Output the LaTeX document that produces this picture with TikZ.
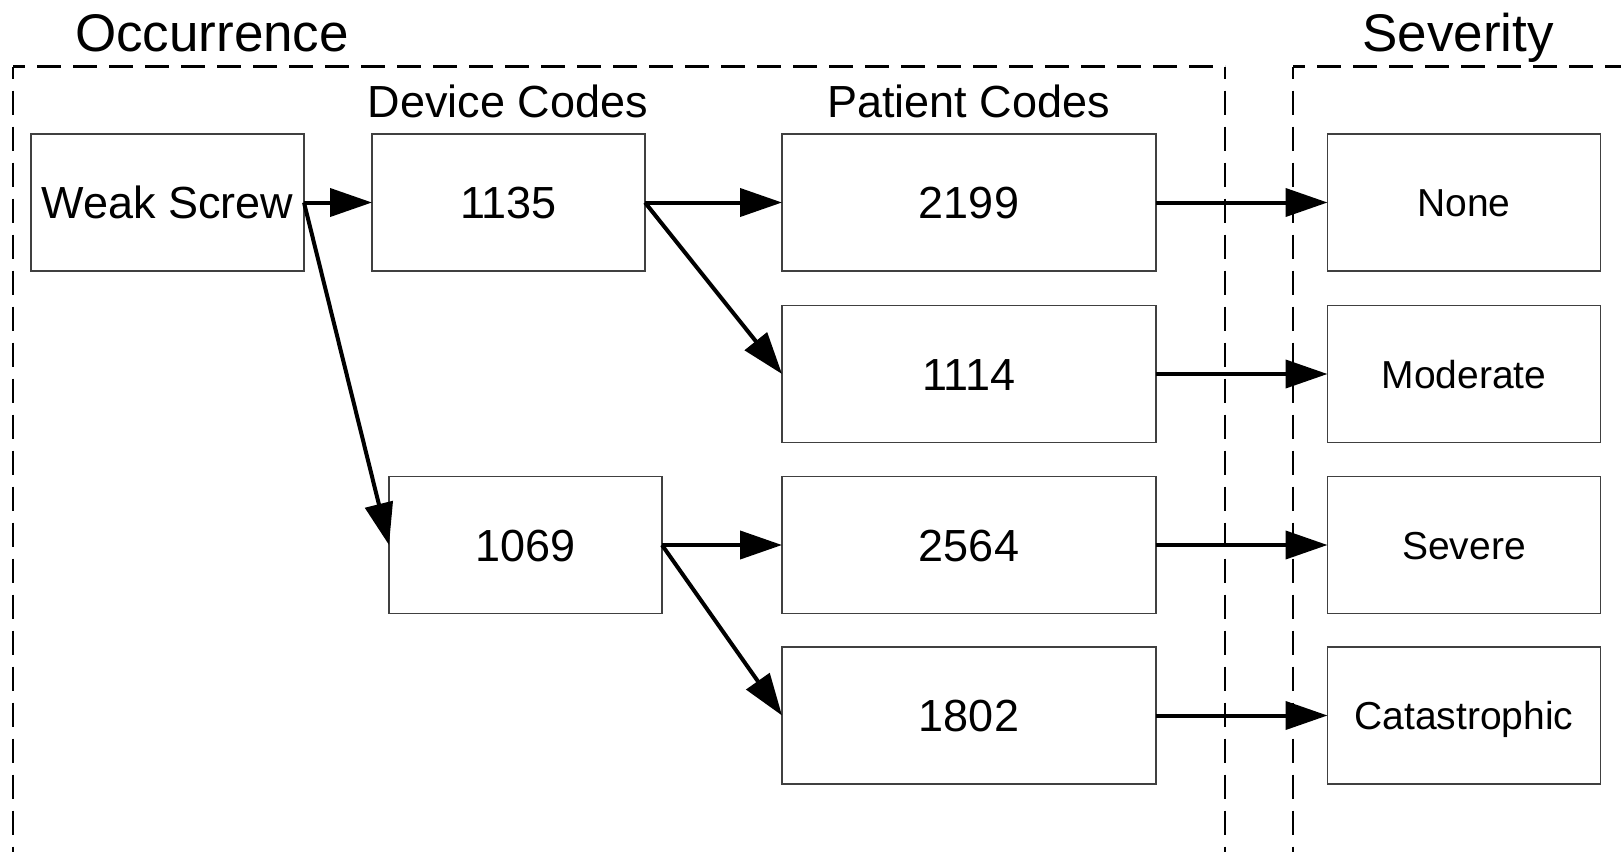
\documentclass[tikz,border=0pt]{standalone}
\usepackage{fontspec}
\setmainfont{Liberation Sans}
\usetikzlibrary{arrows.meta}
\begin{document}
\begin{tikzpicture}[x=0.5pt,y=-0.5pt,
  box/.style={draw=black!75,line width=0.6pt,minimum width=136.5pt,minimum height=68.5pt,inner sep=0pt,outer sep=0pt,font=\fontsize{22.5}{27}\selectfont,text height=16.1pt,text depth=0pt},
  sbox/.style={box,font=\fontsize{19.5}{23}\selectfont,text height=14pt},
  wide/.style={box,minimum width=187pt},
  arr/.style={-{Triangle[length=21pt,width=14pt]},line width=2pt},
  group/.style={dash pattern=on 12pt off 6pt,dash phase=6pt,line width=1.3pt},
  title/.style={anchor=base,font=\fontsize{26.5}{32}\selectfont},
  head/.style={anchor=base,font=\fontsize{22.5}{27}\selectfont}]
\useasboundingbox (0,0) rectangle (1621,851);

% group frames
\coordinate (oTL) at (13,66.5);
\coordinate (oTR) at (1225,66.5);
\coordinate (oBL) at (13,860);
\coordinate (oBR) at (1225,860);
\coordinate (sTL) at (1293,66.5);
\coordinate (sTR) at (1640,66.5);
\coordinate (sBL) at (1293,860);
\draw[group] (oTL) -- (oBL);
\draw[group] (oTL) -- (oTR);
\draw[group] (oTR) -- (oBR);
\draw[group] (sTL) -- (sBL);
\draw[group] (sTL) -- (sTR);

% titles
\node[title] (tocc) at (212,51.7) {Occurrence};
\node[title] (tsev) at (1458,51.7) {Severity};
\node[head] (hdev) at (507.6,117) {Device Codes};
\node[head] (hpat) at (968.7,117) {Patient Codes};

% boxes
\node[box] (ws) at (167.5,202.5) {Weak Screw};
\node[box] (d1) at (508.5,202.5) {1135};
\node[box] (d2) at (525.5,545) {1069};
\node[wide] (p1) at (969,202.5) {2199};
\node[wide] (p2) at (969,374) {1114};
\node[wide] (p3) at (969,545) {2564};
\node[wide] (p4) at (969,715.5) {1802};
\node[sbox] (s1) at (1464,202.5) {None};
\node[sbox] (s2) at (1464,374) {Moderate};
\node[sbox] (s3) at (1464,545) {Severe};
\node[sbox] (s4) at (1464,715.5) {Catastrophic};

% connectors
\draw[arr] (ws.east) -- (d1.west);
\draw[arr] (ws.east) -- (d2.west);
\draw[arr] (d1.east) -- (p1.west);
\draw[arr] (d1.east) -- (p2.west);
\draw[arr] (d2.east) -- (p3.west);
\draw[arr] (d2.east) -- (p4.west);
\draw[arr] (p1.east) -- (s1.west);
\draw[arr] (p2.east) -- (s2.west);
\draw[arr] (p3.east) -- (s3.west);
\draw[arr] (p4.east) -- (s4.west);
\end{tikzpicture}
\end{document}
